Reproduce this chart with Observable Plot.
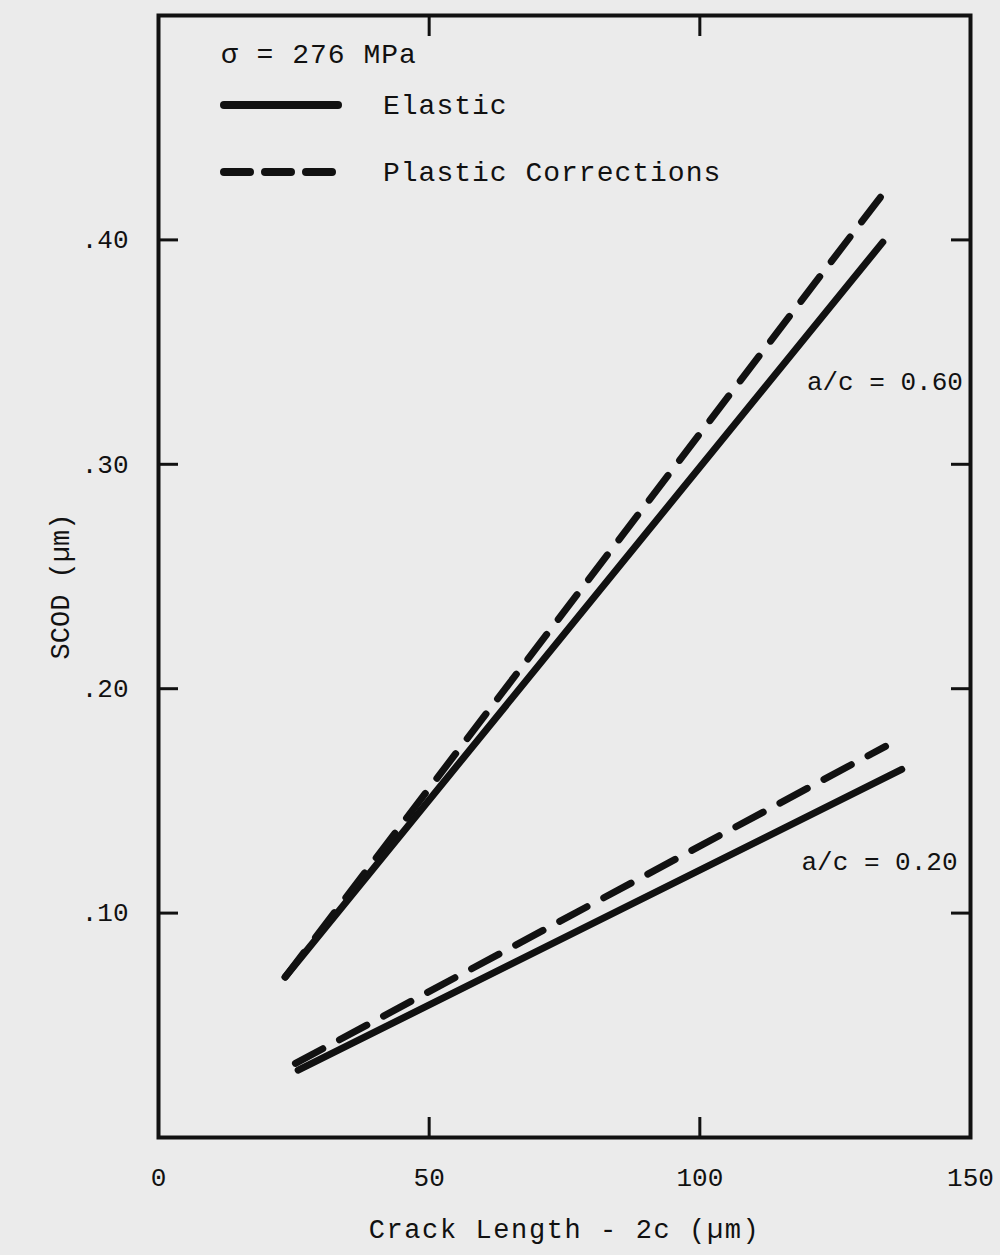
<!DOCTYPE html>
<html><head><meta charset="utf-8">
<script src="https://cdn.jsdelivr.net/npm/d3@7"></script>
<script src="https://cdn.jsdelivr.net/npm/@observablehq/plot@0.6"></script>
<style>
html,body{margin:0;padding:0;background:#ebebeb;}
#chart{position:relative;width:1000px;height:1255px;}
svg{font-family:"Liberation Mono",monospace;}
</style></head><body><div id="chart"></div>
<script>
// --- data ---
const crackElastic06 = [23.4, 133.8];
const scodElastic06  = [0.0715, 0.399];
const crackPlastic06 = [23.4, 134.3];
const scodPlastic06  = [0.0715, 0.422];
const crackElastic02 = [25.8, 137.3];
const scodElastic02  = [0.030, 0.164];
const crackPlastic02 = [25.3, 134.3];
const scodPlastic02  = [0.033, 0.1743];
const xTicks = [0, 50, 100, 150];
const yTicks = [0.1, 0.2, 0.3, 0.4];
const ratioLabels = ["a/c = 0.60", "a/c = 0.20"];
const ratioLabelX = [148.6, 147.6];
const ratioLabelY = [0.337, 0.123];
const legendTitle = "σ = 276 MPa";
const legendNames = ["Elastic", "Plastic Corrections"];
const xLabel = "Crack Length - 2c (µm)";
const yLabel = "SCOD (µm)";

const ink = "#111";
const toRows = (xs, ys, type, ratio) => xs.map((x, i) => ({x, y: ys[i], type, ratio}));
const elasticRows = [...toRows(crackElastic06, scodElastic06, "Elastic", "0.60"),
                     ...toRows(crackElastic02, scodElastic02, "Elastic", "0.20")];
const plasticRows = [...toRows(crackPlastic06, scodPlastic06, "Plastic", "0.60"),
                     ...toRows(crackPlastic02, scodPlastic02, "Plastic", "0.20")];
const labelRows = ratioLabels.map((t, i) => ({t, x: ratioLabelX[i], y: ratioLabelY[i]}));
const yFmt = d => d3.format(".2f")(d).replace(/^0/, "");

const chart = Plot.plot({
  width: 1000, height: 1255,
  marginLeft: 158, marginRight: 30, marginTop: 15, marginBottom: 118,
  style: {background: "transparent", fontFamily: "Liberation Mono, monospace", color: ink},
  x: {domain: [0, 150]},
  y: {domain: [0, 0.5]},
  marks: [
    Plot.axisX(xTicks, {anchor: "bottom", tickSize: -20, strokeWidth: 3, stroke: ink, tickFormat: () => "", label: null}),
    Plot.axisX(xTicks, {anchor: "top", tickSize: -20, strokeWidth: 3, stroke: ink, tickFormat: () => "", label: null}),
    Plot.axisY(yTicks, {anchor: "left", tickSize: -20, strokeWidth: 3, stroke: ink, tickFormat: () => "", label: null}),
    Plot.axisY(yTicks, {anchor: "right", tickSize: -20, strokeWidth: 3, stroke: ink, tickFormat: () => "", label: null}),
    Plot.axisX(xTicks, {anchor: "bottom", tickSize: 0, tickPadding: 30, fontSize: 26, fill: ink, label: null}),
    Plot.axisY(yTicks, {anchor: "left", tickSize: 0, tickPadding: 30, fontSize: 26, fill: ink, tickFormat: yFmt, label: null}),
    Plot.frame({stroke: ink, strokeWidth: 4}),
    Plot.line(elasticRows, {x: "x", y: "y", z: "ratio", stroke: ink, strokeWidth: 7, strokeLinecap: "round"}),
    Plot.line(plasticRows, {x: "x", y: "y", z: "ratio", stroke: ink, strokeWidth: 7, strokeLinecap: "round", strokeDasharray: "31,19"}),
    Plot.text(labelRows, {x: "x", y: "y", text: "t", textAnchor: "end", fontSize: 26, fill: ink}),
    Plot.text([yLabel], {frameAnchor: "left", textAnchor: "middle", rotate: -90, dx: -98, dy: 10, fontSize: 27, fill: ink}),
    Plot.text([xLabel], {frameAnchor: "bottom", dy: 100, fontSize: 27, fill: ink})
  ]
});
document.getElementById("chart").appendChild(chart);

const svg = d3.select(chart);
// widen the typewriter spacing of the x-axis title
svg.selectAll("text").filter(function() { return this.textContent === xLabel; })
  .attr("letter-spacing", "1.6px");

// legend inside the frame
const g = svg.append("g").attr("fill", ink).attr("font-size", 28).attr("text-anchor", "start")
  .attr("font-family", "Liberation Mono, monospace");
g.append("text").attr("x", 221).attr("y", 63).attr("letter-spacing", "1px").text(legendTitle);
g.append("line").attr("x1", 224).attr("x2", 338).attr("y1", 105).attr("y2", 105)
  .attr("stroke", ink).attr("stroke-width", 8).attr("stroke-linecap", "round");
g.append("line").attr("x1", 224).attr("x2", 338).attr("y1", 172).attr("y2", 172)
  .attr("stroke", ink).attr("stroke-width", 8).attr("stroke-linecap", "round").attr("stroke-dasharray", "26,15");
g.append("text").attr("x", 383).attr("y", 114).attr("letter-spacing", "1px").text(legendNames[0]);
g.append("text").attr("x", 383).attr("y", 181).attr("letter-spacing", "1px").text(legendNames[1]);
</script></body></html>
